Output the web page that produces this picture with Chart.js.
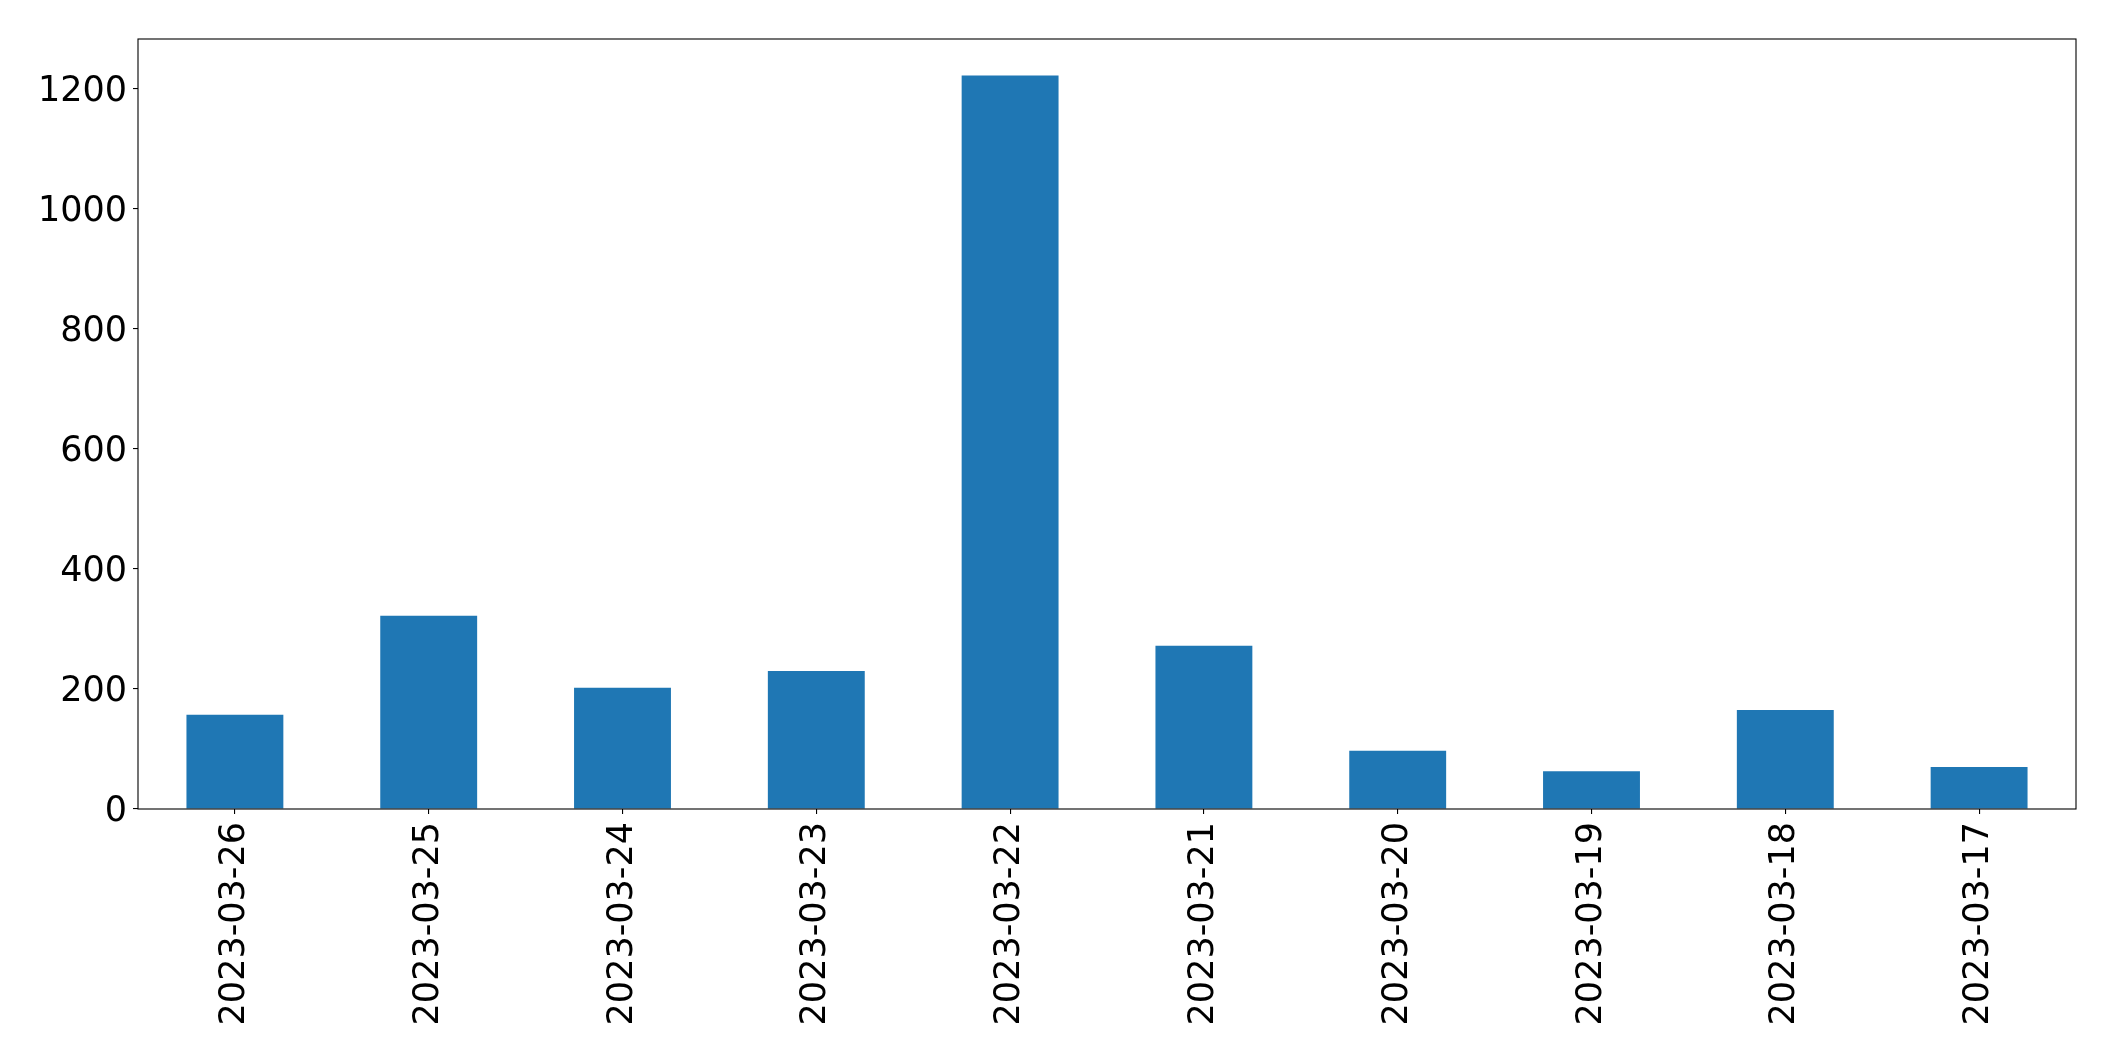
<!DOCTYPE html>
<html>
<head>
<meta charset="utf-8">
<script src="https://cdn.jsdelivr.net/npm/chart.js@4/dist/chart.umd.min.js"></script>
<style>
  html, body { margin: 0; padding: 0; background: #fff; }
  canvas { display: block; }
</style>
</head>
<body>
<canvas id="barChart" width="2115" height="1061"></canvas>
<script>
// ===== Data =====
const dates = ["2023-03-26", "2023-03-25", "2023-03-24", "2023-03-23", "2023-03-22",
               "2023-03-21", "2023-03-20", "2023-03-19", "2023-03-18", "2023-03-17"];
const counts = [157, 322, 202, 230, 1222, 272, 97, 63, 165, 70];
const yTicks = [0, 200, 400, 600, 800, 1000, 1200];

const tickFont = { family: "DejaVu Sans", size: 35 };

// box around the plot area, like matplotlib spines
const frame = {
  id: "frame",
  afterDraw(chart) {
    const { ctx, chartArea: a } = chart;
    ctx.save();
    ctx.strokeStyle = "#000";
    ctx.lineWidth = 1.1;
    ctx.strokeRect(a.left, a.top, a.right - a.left, a.bottom - a.top);
    ctx.restore();
  }
};

const ctx = document.getElementById("barChart").getContext("2d");
new Chart(ctx, {
  type: "bar",
  data: {
    labels: dates,
    datasets: [{
      data: counts,
      backgroundColor: "#1f77b4",
      borderWidth: 0,
      categoryPercentage: 0.5,
      barPercentage: 1.0
    }]
  },
  options: {
    responsive: false,
    animation: false,
    devicePixelRatio: 1,
    layout: { padding: { top: 39, right: 39, left: 0, bottom: 0 } },
    plugins: { legend: { display: false }, tooltip: { enabled: false } },
    scales: {
      x: {
        offset: true,
        grid: { drawOnChartArea: false, drawTicks: true, tickLength: 5, tickColor: "#000", lineWidth: 1.1, offset: false },
        border: { display: false },
        ticks: { color: "#000", font: tickFont, minRotation: 90, maxRotation: 90, padding: 8, autoSkip: false },
        afterFit(scale) { scale.height = 252; }
      },
      y: {
        min: 0,
        max: 1283,
        grid: { drawOnChartArea: false, drawTicks: true, tickLength: 5, tickColor: "#000", lineWidth: 1.1 },
        border: { display: false },
        ticks: { color: "#000", font: tickFont, padding: 6, labelOffset: 3, callback: v => String(v) },
        afterBuildTicks(scale) { scale.ticks = yTicks.map(v => ({ value: v })); },
        afterFit(scale) { scale.width = 138; }
      }
    }
  },
  plugins: [frame]
});
</script>
</body>
</html>
